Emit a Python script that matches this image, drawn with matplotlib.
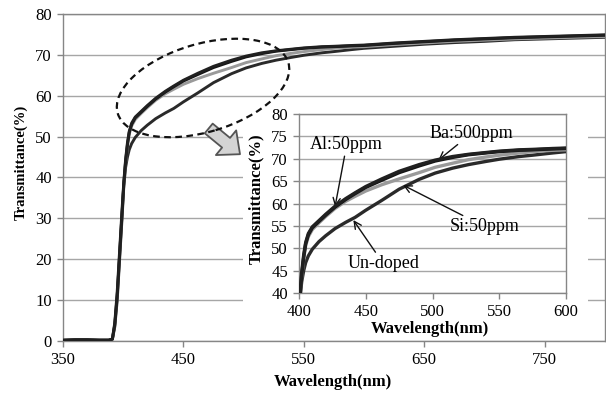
"""
Transmittance spectra of doped and un-doped films, with a zoomed inset
of the 400-600 nm absorption edge.
"""

import numpy as np
import matplotlib.pyplot as plt
from matplotlib.patches import Ellipse
from matplotlib.transforms import IdentityTransform

plt.rcParams["font.family"] = ["Liberation Serif", "DejaVu Serif"]

# Wavelength grid (nm)
wavelength = [350, 360, 370, 380, 388, 391, 393, 395, 397, 399, 400.5, 402,
              403.5, 405, 407, 410, 415, 420, 427, 435, 442, 450, 462, 475,
              490, 502, 515, 527, 540, 550, 565, 575, 590, 600, 625, 650,
              675, 700, 725, 750, 775, 800]

# Transmittance (%) for each sample
t_undoped = [0.1, 0.2, 0.2, 0.2, 0.2, 0.4, 3.5, 10, 20, 30, 38, 42.5,
             45.0, 46.8, 48.3, 49.8, 51.5, 52.8, 54.4, 55.8, 56.9, 58.5, 60.7, 63.2,
             65.4, 66.8, 67.9, 68.7, 69.4, 69.9, 70.5, 70.8, 71.3, 71.6, 72.1, 72.6,
             73.0, 73.3, 73.7, 73.9, 74.1, 74.3]
t_si = [0.2, 0.3, 0.3, 0.2, 0.2, 0.5, 4, 11, 21, 31, 38.3, 43.6,
        47.6, 50.6, 52.6, 54.2, 55.7, 57.1, 58.9, 60.5, 61.6, 62.8, 64.2, 65.5,
        66.9, 68.1, 69.0, 69.8, 70.4, 70.8, 71.3, 71.6, 71.9, 72.0, 72.5, 72.9,
        73.3, 73.6, 73.9, 74.1, 74.3, 74.5]
t_al = [0.2, 0.3, 0.3, 0.2, 0.2, 0.5, 4, 11, 21, 31, 38.5, 44,
        48, 51, 53, 54.6, 56, 57.4, 59.2, 60.9, 62.2, 63.6, 65.2, 66.9,
        68.4, 69.5, 70.3, 70.9, 71.3, 71.6, 71.9, 72.0, 72.2, 72.3, 72.8, 73.2,
        73.6, 73.9, 74.2, 74.4, 74.6, 74.8]
t_ba = [0.2, 0.3, 0.3, 0.2, 0.2, 0.5, 4.5, 12, 22, 32, 39, 44.5,
        48.5, 51.3, 53.3, 54.8, 56.2, 57.6, 59.4, 61.1, 62.4, 63.8, 65.5, 67.2,
        68.7, 69.7, 70.5, 71.0, 71.4, 71.7, 72.0, 72.1, 72.3, 72.4, 72.9, 73.3,
        73.7, 74.0, 74.3, 74.5, 74.7, 74.9]

GRID = "#a6a6a6"
FRAME = "#868686"


def draw_series(ax, lw):
    ax.plot(wavelength, t_undoped, color="#2a2a2a", lw=lw, zorder=3)
    ax.plot(wavelength, t_si, color="#9a9a9a", lw=lw, zorder=3)
    ax.plot(wavelength, t_al, color="#151515", lw=lw, zorder=4)
    ax.plot(wavelength, t_ba, color="#202020", lw=lw, zorder=4)


def style_axes(ax):
    ax.grid(axis="y", color=GRID, lw=1.0)
    ax.grid(axis="x", visible=False)
    ax.set_axisbelow(True)
    for s in ax.spines.values():
        s.set_color(FRAME)
        s.set_linewidth(1.0)
    ax.tick_params(direction="out", length=4, width=1, color=FRAME,
                   labelsize=12, pad=4)


def main():
    fig = plt.figure(figsize=(6.06, 3.94), dpi=100)

    # Main spectrum
    ax = fig.add_axes([0.104, 0.1345, 0.894, 0.830])
    draw_series(ax, 2.1)
    ax.set_xlim(350, 800)
    ax.set_ylim(0, 80)
    ax.set_xticks(np.arange(350, 800, 100))
    ax.set_yticks(np.arange(0, 81, 10))
    style_axes(ax)
    ax.set_xlabel("Wavelength(nm)", fontsize=12, fontweight="bold")
    ax.set_ylabel("Transmittance(%)", fontsize=10.5, fontweight="bold")
    ax.xaxis.set_label_coords(0.498, -0.10)
    ax.yaxis.set_label_coords(-0.066, 0.545)

    # Block arrow pointing to the zoomed view
    ax.annotate("", xy=(497, 45.7), xytext=(471, 52.0),
                arrowprops=dict(arrowstyle="simple,head_width=2.3,head_length=1.3,tail_width=0.9",
                                mutation_scale=10, fc="#d4d4d4", ec="#555555",
                                lw=1.3, shrinkA=0, shrinkB=0),
                zorder=6)

    # White panel behind the inset
    bg = fig.add_axes([0.401, 0.1396, 0.569, 0.599])
    bg.set_xticks([])
    bg.set_yticks([])
    for s in bg.spines.values():
        s.set_visible(False)
    bg.set_facecolor("white")

    # Zoomed inset of the absorption edge
    ins = fig.add_axes([0.4934, 0.2563, 0.4406, 0.4543])
    draw_series(ins, 2.4)
    ins.set_xlim(400, 600)
    ins.set_ylim(40, 80)
    ins.set_xticks(np.arange(400, 601, 50))
    ins.set_yticks(np.arange(40, 81, 5))
    style_axes(ins)
    ins.set_xlabel("Wavelength(nm)", fontsize=12, fontweight="bold")
    ins.set_ylabel("Transmittance(%)", fontsize=12, fontweight="bold")
    ins.xaxis.set_label_coords(0.49, -0.155)
    ins.yaxis.set_label_coords(-0.131, 0.525)

    arrow = dict(arrowstyle="->", color="#111111", lw=1.0, shrinkA=0, shrinkB=0)
    ins.annotate("Al:50ppm", xy=(427, 59.3), xytext=(435.7, 73.1),
                 fontsize=13, ha="center", va="center", arrowprops=arrow)
    ins.annotate("Ba:500ppm", xy=(504.4, 69.7), xytext=(529.3, 75.7),
                 fontsize=13, ha="center", va="center", arrowprops=arrow)
    ins.annotate("Si:50ppm", xy=(478, 64.1), xytext=(539.3, 54.8),
                 fontsize=13, ha="center", va="center", arrowprops=arrow)
    ins.annotate("Un-doped", xy=(440.7, 56.3), xytext=(463.1, 46.6),
                 fontsize=13, ha="center", va="center", arrowprops=arrow)

    # Dashed ellipse around the edge region of the main plot
    cx, cy = ax.transData.transform((466.3, 61.9))
    ring = Ellipse((cx, cy), 178, 88, angle=16.6, fill=False,
                   ec="#111111", lw=1.6, ls=(0, (3, 2)),
                   transform=IdentityTransform(), zorder=10)
    fig.add_artist(ring)

    fig.savefig("out.png", dpi=100)


if __name__ == "__main__":
    main()
